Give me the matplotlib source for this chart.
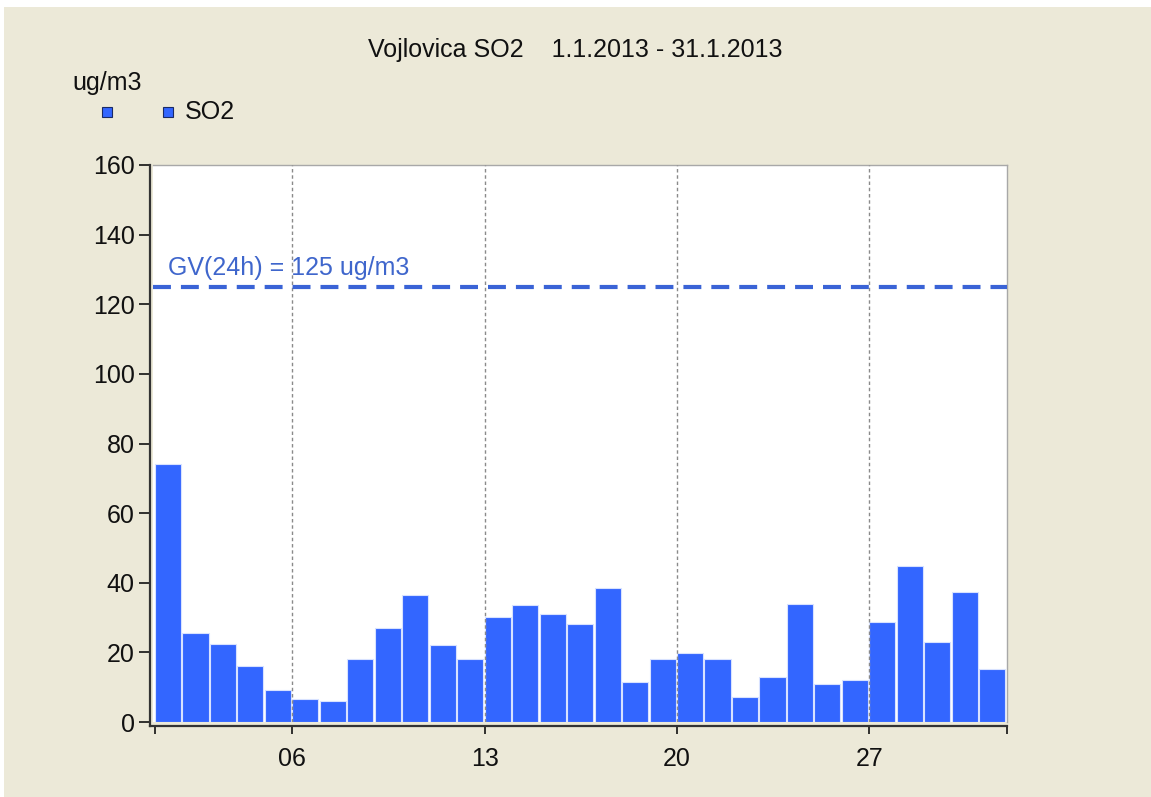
import numpy as np
import matplotlib.pyplot as plt
from matplotlib.patches import Rectangle

# podaci: dnevne srednje vrijednosti SO2, januar 2013
days = np.arange(1, 32)
so2 = [74.1, 25.6, 22.4, 16.1, 9.2, 6.6, 6.0, 18.1, 27.0, 36.5,
       22.1, 18.1, 30.2, 33.6, 31.0, 28.2, 38.5, 11.5, 18.1, 19.8,
       18.1, 7.2, 12.9, 33.9, 10.9, 12.1, 28.7, 44.8, 23.0, 37.4, 15.2]
limit_value = 125
tick_days = [1, 6, 13, 20, 27, 32]
tick_labels = ['', '06', '13', '20', '27', '']
y_ticks = [0, 20, 40, 60, 80, 100, 120, 140, 160]

W, H = 1151, 797
beige = '#ECE9D8'
bar_color = '#3366FF'
line_color = '#3A63D6'

plt.rcParams['font.family'] = ['Liberation Sans', 'DejaVu Sans']

fig = plt.figure(figsize=(W / 100, H / 100), dpi=100)
fig.patch.set_facecolor('white')
fig.patches.append(Rectangle((4 / W, 0), 1, 1 - 7 / H, transform=fig.transFigure,
                             facecolor=beige, edgecolor='none', zorder=-10))

ax = fig.add_axes([153 / W, (H - 722) / H, (1007 - 153) / W, (722 - 165) / H])
ax.set_facecolor('white')

ax.bar(days, so2, width=0.95, align='edge', color=bar_color,
       edgecolor='#D8E2FF', linewidth=0.8, zorder=2)

for d in tick_days[1:-1]:
    ax.axvline(d, color='#8A8A8A', lw=1, linestyle=(0, (2.5, 2)), zorder=3)

ax.axhline(limit_value, color=line_color, lw=3, dashes=(4.3, 2.4), zorder=4)
ax.text(1.47, 130.5, 'GV(24h) = 125 ug/m3', color='#3F66CC', fontsize=18,
        va='center', ha='left', zorder=5)

ax.set_xlim(0.93, 32.01)
ax.set_ylim(0, 160)
ax.set_xticks(tick_days)
ax.set_xticklabels(tick_labels)
ax.set_yticks(y_ticks)

ax.tick_params(axis='x', direction='out', length=6, width=1.2, pad=9,
               labelsize=18, colors='#111111')
ax.tick_params(axis='y', direction='out', length=8, width=1.2, pad=3,
               labelsize=18, colors='#111111')

for side in ['left', 'bottom']:
    ax.spines[side].set_color('#333333')
    ax.spines[side].set_linewidth(1.6)
ax.spines['left'].set_position(('outward', 2.2))
ax.spines['bottom'].set_position(('outward', 2.9))
ax.spines['left'].set_bounds(-1.2, 160)
ax.spines['bottom'].set_bounds(0.82, 32.01)
for side in ['top', 'right']:
    ax.spines[side].set_color('#A8A8A8')
    ax.spines[side].set_linewidth(1)

# naslov i oznake
fig.text(575 / W, 1 - 50 / H, 'Vojlovica SO2    1.1.2013 - 31.1.2013',
         ha='center', va='center', fontsize=18, color='#111111')
fig.text(72 / W, 1 - 83 / H, 'ug/m3', ha='left', va='center', fontsize=18,
         color='#111111')
fig.text(185 / W, 1 - 112 / H, 'SO2', ha='left', va='center', fontsize=18,
         color='#111111')
for x in [107, 168]:
    fig.patches.append(Rectangle(((x - 5) / W, 1 - 117 / H), 10 / W, 10 / H,
                                 transform=fig.transFigure, facecolor=bar_color,
                                 edgecolor='#1A2A66', lw=0.8))

fig.savefig('out.png', dpi=100, facecolor=fig.get_facecolor())
